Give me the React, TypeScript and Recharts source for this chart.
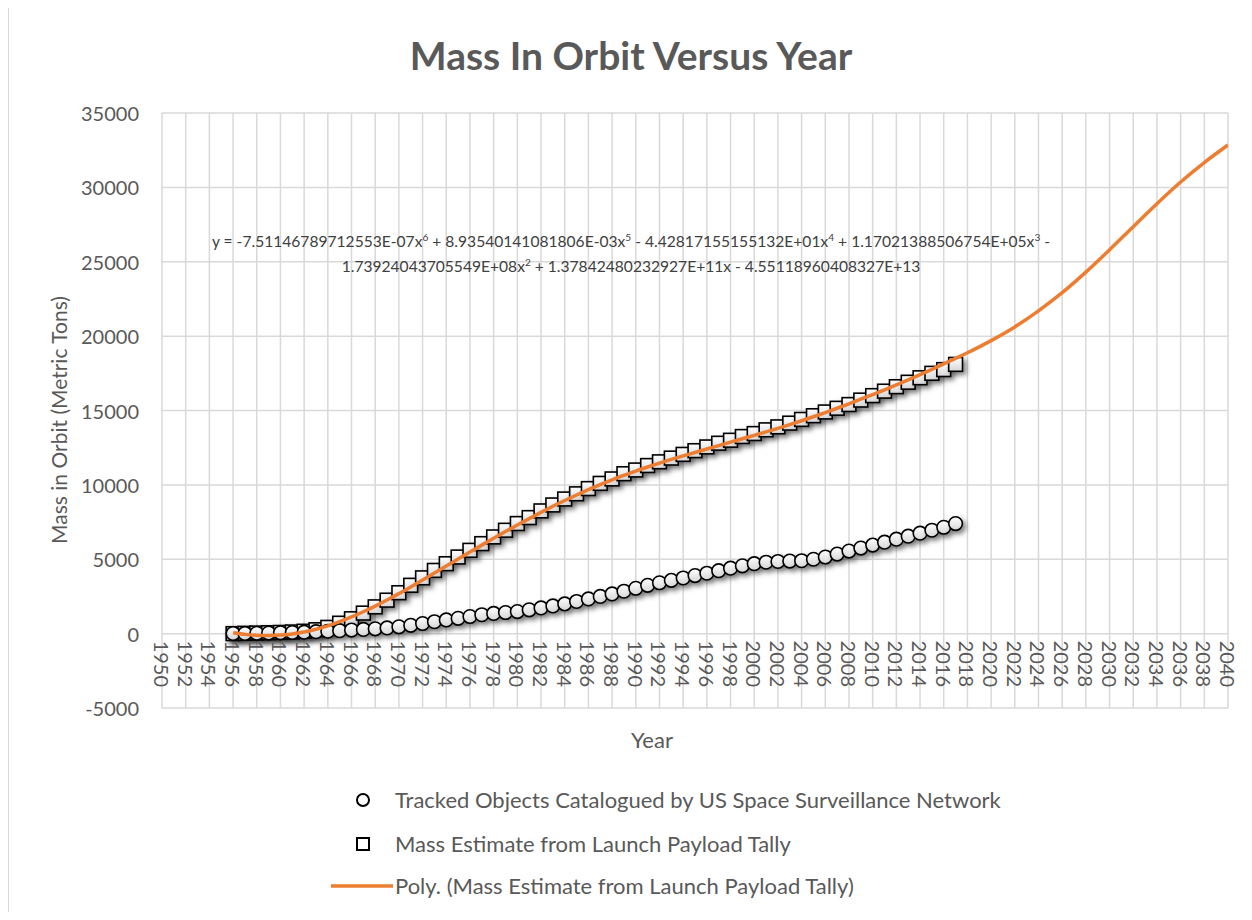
import React from 'react';
import { ComposedChart, Scatter, XAxis, YAxis, CartesianGrid } from 'recharts';

const years = [
  1956, 1957, 1958, 1959, 1960, 1961, 1962, 1963, 1964, 1965,
  1966, 1967, 1968, 1969, 1970, 1971, 1972, 1973, 1974, 1975,
  1976, 1977, 1978, 1979, 1980, 1981, 1982, 1983, 1984, 1985,
  1986, 1987, 1988, 1989, 1990, 1991, 1992, 1993, 1994, 1995,
  1996, 1997, 1998, 1999, 2000, 2001, 2002, 2003, 2004, 2005,
  2006, 2007, 2008, 2009, 2010, 2011, 2012, 2013, 2014, 2015,
  2016, 2017,
];

const trackedObjects = [
  10, 15, 25, 40, 55, 75, 100, 130, 160, 200,
  240, 280, 320, 380, 460, 560, 680, 800, 920, 1030,
  1150, 1270, 1360, 1420, 1480, 1600, 1730, 1860, 2000, 2160,
  2330, 2500, 2670, 2850, 3050, 3250, 3420, 3580, 3740, 3900,
  4060, 4230, 4400, 4560, 4700, 4800, 4850, 4880, 4900, 5000,
  5150, 5350, 5550, 5750, 5950, 6150, 6350, 6550, 6750, 6950,
  7150, 7400,
];

const massEstimate = [
  0, 20, 40, 60, 80, 110, 160, 260, 420, 700,
  1000, 1380, 1800, 2250, 2750, 3250, 3750, 4250, 4700, 5150,
  5600, 6050, 6500, 6950, 7400, 7800, 8250, 8650, 9050, 9400,
  9750, 10100, 10400, 10750, 11000, 11300, 11550, 11800, 12050, 12300,
  12550, 12800, 13000, 13250, 13450, 13700, 13900, 14150, 14400, 14650,
  14900, 15150, 15400, 15700, 16000, 16300, 16600, 16900, 17200, 17500,
  17750, 18100,
];

const trendYears = [
  1956, 1957, 1958, 1959, 1960, 1961, 1962, 1963, 1964, 1965,
  1966, 1967, 1968, 1969, 1970, 1971, 1972, 1973, 1974, 1975,
  1976, 1977, 1978, 1979, 1980, 1981, 1982, 1983, 1984, 1985,
  1986, 1987, 1988, 1989, 1990, 1991, 1992, 1993, 1994, 1995,
  1996, 1997, 1998, 1999, 2000, 2001, 2002, 2003, 2004, 2005,
  2006, 2007, 2008, 2009, 2010, 2011, 2012, 2013, 2014, 2015,
  2016, 2017, 2018, 2019, 2020, 2022, 2024, 2026, 2028, 2030,
  2032, 2034, 2036, 2038, 2040,
];

const trendValues = [
  60, -50, -110, -130, -100, -20, 110, 290, 520, 800,
  1120, 1470, 1850, 2260, 2690, 3140, 3600, 4070, 4540, 5010,
  5480, 5950, 6410, 6860, 7300, 7730, 8150, 8560, 8950, 9320,
  9680, 10020, 10340, 10640, 10930, 11200, 11460, 11710, 11950, 12180,
  12410, 12640, 12870, 13100, 13330, 13560, 13800, 14050, 14310, 14580,
  14860, 15150, 15450, 15760, 16070, 16390, 16720, 17060, 17410, 17770,
  18140, 18500, 18880, 19280, 19700, 20620, 21700, 22920, 24300, 25800,
  27360, 28900, 30360, 31670, 32850,
];

const xTicks = [
  1950, 1952, 1954, 1956, 1958, 1960, 1962, 1964, 1966, 1968,
  1970, 1972, 1974, 1976, 1978, 1980, 1982, 1984, 1986, 1988,
  1990, 1992, 1994, 1996, 1998, 2000, 2002, 2004, 2006, 2008,
  2010, 2012, 2014, 2016, 2018, 2020, 2022, 2024, 2026, 2028,
  2030, 2032, 2034, 2036, 2038, 2040,
];
const yTicks = [-5000, 0, 5000, 10000, 15000, 20000, 25000, 30000, 35000];

const trackedData = years.map((year, i) => ({ year, value: trackedObjects[i] }));
const massData = years.map((year, i) => ({ year, value: massEstimate[i] }));
const trendData = trendYears.map((year, i) => ({ year, value: trendValues[i] }));

const FONT = 'Lato, "Open Sans", sans-serif';
const TEXT = '#595959';
const ORANGE = '#ED7D31';
const GRID = '#d9d9d9';

// layout (container coordinates)
const W = 1244;
const H = 760;
const M = { top: 105, right: 25, bottom: 30, left: 93 };
const Y_AXIS_W = 60;
const PLOT_LEFT = M.left + Y_AXIS_W;
const PLOT_TOP = M.top;
const PLOT_H = H - M.top - M.bottom - 30;
const ZERO_Y = PLOT_TOP + (PLOT_H * 35000) / 40000;

const shadow = { filter: 'drop-shadow(3px 3px 2.5px rgba(0,0,0,0.5))' };

const CircleMarker = (p: any) => (
  <circle cx={p.cx} cy={p.cy} r={6.8} fill="url(#mkFill)" stroke="#000" strokeWidth={1.6} style={shadow} />
);
const SquareMarker = (p: any) => (
  <rect x={p.cx - 6.9} y={p.cy - 6.9} width={13.8} height={13.8} fill="url(#mkFill)" stroke="#000" strokeWidth={1.6} style={shadow} />
);
const NoMarker = () => <g />;

const XTick = (p: any) => {
  const x = p.x;
  const y = ZERO_Y + 7;
  return (
    <text x={x} y={y} transform={`rotate(90, ${x}, ${y})`} textAnchor="start" dominantBaseline="central"
      fill={TEXT} fontSize={20} fontFamily={FONT}>
      {p.payload.value}
    </text>
  );
};

const YTick = (p: any) => (
  <text x={PLOT_LEFT - 23} y={p.y} textAnchor="end" dominantBaseline="central" fill={TEXT} fontSize={20} fontFamily={FONT}>
    {p.payload.value}
  </text>
);

const sup = { fontSize: '0.65em', verticalAlign: 'super', lineHeight: 0 } as React.CSSProperties;

export default function App() {
  return (
    <div style={{ position: 'relative', width: W, height: 904, borderLeft: `1px solid ${GRID}`, fontFamily: FONT, color: TEXT, boxSizing: 'border-box' }}>
      <div style={{ position: 'absolute', left: 0, width: W, top: 24, textAlign: 'center', fontSize: 39, fontWeight: 700, lineHeight: '46px' }}>
        Mass In Orbit Versus Year
      </div>
      <ComposedChart width={W} height={H} margin={M} style={{ position: 'absolute', left: 0, top: 0 }}>
        <defs>
          <linearGradient id="mkFill" x1="0" y1="0" x2="0" y2="1">
            <stop offset="0" stopColor="#ffffff" />
            <stop offset="1" stopColor="#d6d6d6" />
          </linearGradient>
        </defs>
        <CartesianGrid stroke={GRID} strokeWidth={1.5} />
        <XAxis dataKey="year" type="number" domain={[1950, 2040]} ticks={xTicks} interval={0}
          axisLine={false} tickLine={false} tick={<XTick />} height={30} allowDataOverflow />
        <YAxis dataKey="value" type="number" domain={[-5000, 35000]} ticks={yTicks} interval={0}
          axisLine={false} tickLine={false} tick={<YTick />} width={Y_AXIS_W} allowDataOverflow />
        <Scatter data={massData} dataKey="value" shape={<SquareMarker />} isAnimationActive={false} />
        <Scatter data={trackedData} dataKey="value" shape={<CircleMarker />} isAnimationActive={false} />
        <Scatter data={trendData} dataKey="value" shape={<NoMarker />} line={{ stroke: ORANGE, strokeWidth: 3.5, fill: 'none' }}
          lineJointType="monotoneX" isAnimationActive={false} />
      </ComposedChart>
      <div style={{ position: 'absolute', left: 0, width: W, top: 221, textAlign: 'center', fontSize: 15.6, lineHeight: '25px', color: '#404040' }}>
        <div>y = -7.51146789712553E-07x<span style={sup}>6</span> + 8.93540141081806E-03x<span style={sup}>5</span> - 4.42817155155132E+01x<span style={sup}>4</span> + 1.17021388506754E+05x<span style={sup}>3</span> -</div>
        <div>1.73924043705549E+08x<span style={sup}>2</span> + 1.37842480232927E+11x - 4.55118960408327E+13</div>
      </div>
      <div style={{ position: 'absolute', left: 50 - 200, top: 412 - 14, width: 400, textAlign: 'center', fontSize: 21, lineHeight: '28px', transform: 'rotate(-90deg)' }}>
        Mass in Orbit (Metric Tons)
      </div>
      <div style={{ position: 'absolute', left: 643 - 100, top: 732 - 14, width: 200, textAlign: 'center', fontSize: 22, lineHeight: '28px' }}>
        Year
      </div>
      <div style={{ position: 'absolute', left: 310, top: 778, fontSize: 22, lineHeight: '28px' }}>
        <div style={{ position: 'absolute', top: 0, left: 0, whiteSpace: 'nowrap', display: 'flex', alignItems: 'center' }}>
          <svg width={76} height={28}><circle cx={44} cy={14} r={6} fill="none" stroke="#000" strokeWidth={2} /></svg>
          <span>Tracked Objects Catalogued by US Space Surveillance Network</span>
        </div>
        <div style={{ position: 'absolute', top: 44, left: 0, whiteSpace: 'nowrap', display: 'flex', alignItems: 'center' }}>
          <svg width={76} height={28}><rect x={38} y={8} width={12} height={12} fill="none" stroke="#000" strokeWidth={2} /></svg>
          <span>Mass Estimate from Launch Payload Tally</span>
        </div>
        <div style={{ position: 'absolute', top: 86, left: 0, whiteSpace: 'nowrap', display: 'flex', alignItems: 'center' }}>
          <svg width={76} height={28}><line x1={12} y1={14} x2={74} y2={14} stroke={ORANGE} strokeWidth={3.5} /></svg>
          <span>Poly. (Mass Estimate from Launch Payload Tally)</span>
        </div>
      </div>
    </div>
  );
}
